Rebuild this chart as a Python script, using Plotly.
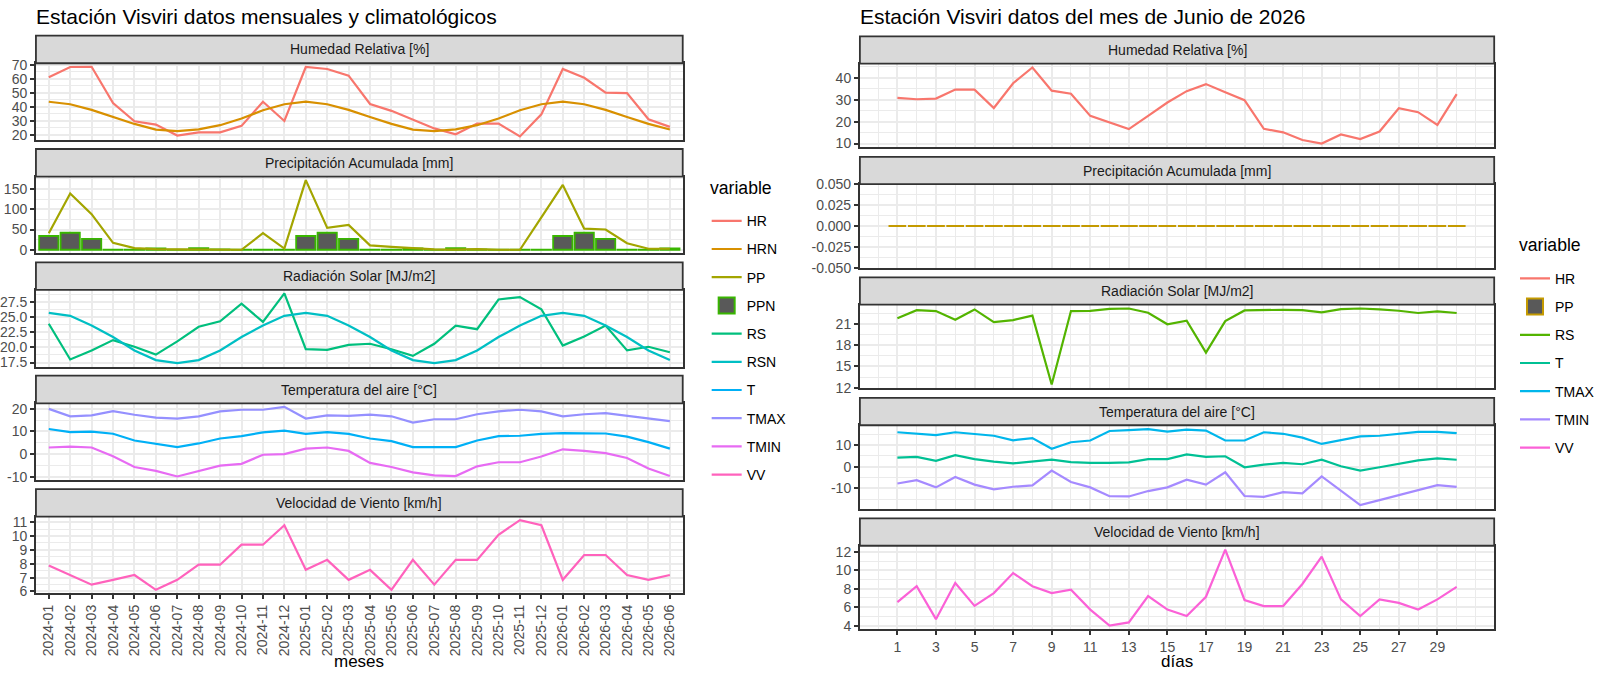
import plotly.graph_objects as go

# ---------------- datos mensuales y climatológicos ----------------
meses = ["2024-01", "2024-02", "2024-03", "2024-04", "2024-05", "2024-06",
         "2024-07", "2024-08", "2024-09", "2024-10", "2024-11", "2024-12",
         "2025-01", "2025-02", "2025-03", "2025-04", "2025-05", "2025-06",
         "2025-07", "2025-08", "2025-09", "2025-10", "2025-11", "2025-12",
         "2026-01", "2026-02", "2026-03", "2026-04", "2026-05", "2026-06"]

hr = [61.2, 68.4, 68.6, 42.8, 29.8, 27.4, 19.6, 21.9, 21.9, 26.5, 43.7, 30.0,
      68.4, 67.0, 62.3, 42.1, 37.2, 30.9, 24.7, 20.5, 28.1, 28.1, 19.0, 34.7,
      67.0, 60.7, 50.2, 49.8, 31.2, 25.8]
hrn = [43.7, 41.9, 37.9, 32.8, 27.9, 23.9, 22.8, 24.0, 27.0, 31.7, 37.6, 41.9,
       43.7, 41.9, 37.9, 32.8, 27.9, 23.9, 22.8, 24.0, 27.0, 31.7, 37.6, 41.9,
       43.7, 41.9, 37.9, 32.8, 27.9, 23.9]
pp = [41, 139, 88, 17, 4, 1.5, 1, 1, 0.5, 0, 41, 3,
      172, 54, 61.5, 11, 7, 4, 1, 0.5, 1.5, 0, 0, 80,
      160, 52, 50, 16, 2.5, 2.5]
ppn = [34, 42, 27, 0.6, 0.6, 3.5, 0.5, 4, 1, 0.5, 0.5, 0.6,
       34, 42, 27, 0.6, 0.6, 3.5, 0.5, 4, 1, 0.5, 0.5, 0.6,
       34, 42, 27, 0.6, 0.6, 3.5]
rs = [23.9, 18.0, 19.5, 21.2, 20.1, 18.8, 21.0, 23.4, 24.3, 27.2, 24.2, 28.9,
      19.7, 19.6, 20.4, 20.6, 19.7, 18.6, 20.6, 23.6, 23.0, 27.9, 28.3, 26.3,
      20.3, 21.8, 23.6, 19.5, 20.1, 19.2]
rsn = [25.7, 25.2, 23.6, 21.7, 19.5, 17.9, 17.4, 17.9, 19.5, 21.7, 23.6, 25.2,
       25.7, 25.2, 23.6, 21.7, 19.5, 17.9, 17.4, 17.9, 19.5, 21.7, 23.6, 25.2,
       25.7, 25.2, 23.6, 21.7, 19.5, 17.9]
t = [11.1, 9.7, 9.9, 9.0, 6.0, 4.6, 3.1, 4.7, 6.9, 7.9, 9.6, 10.4,
     8.9, 9.7, 8.9, 6.9, 5.7, 3.1, 3.1, 3.1, 6.0, 7.9, 8.1, 8.9,
     9.3, 9.3, 9.1, 7.7, 5.3, 2.4]
tmax = [20.0, 16.7, 17.1, 19.0, 17.4, 16.1, 15.7, 16.7, 18.9, 19.6, 19.6, 20.9,
        15.7, 17.1, 16.9, 17.4, 16.7, 13.9, 15.4, 15.4, 17.6, 18.9, 19.6, 18.9,
        16.7, 17.6, 18.1, 16.9, 16.0, 14.6]
tmin = [2.9, 3.3, 2.9, -1.0, -5.7, -7.4, -9.9, -7.6, -5.1, -4.3, -0.3, 0.0,
        2.4, 2.9, 1.4, -3.9, -5.7, -8.1, -9.4, -9.7, -5.4, -3.6, -3.6, -1.1,
        2.1, 1.4, 0.4, -1.7, -6.4, -9.7]
vv = [7.88, 7.19, 6.49, 6.84, 7.19, 6.12, 6.84, 7.93, 7.93, 9.37, 9.37, 10.77,
      7.56, 8.28, 6.84, 7.56, 6.12, 8.28, 6.49, 8.28, 8.28, 10.09, 11.14, 10.77,
      6.84, 8.63, 8.63, 7.19, 6.84, 7.19]

# ---------------- datos diarios junio 2026 ----------------
dias = [1, 2, 3, 4, 5, 6, 7, 8, 9, 10, 11, 12, 13, 14, 15,
        16, 17, 18, 19, 20, 21, 22, 23, 24, 25, 26, 27, 28, 29, 30]
hr_d = [30.8, 30.2, 30.5, 34.6, 34.6, 26.2, 37.5, 44.7, 34.1, 32.7, 22.6, 19.6,
        16.6, 22.6, 28.7, 33.9, 37.1, 33.4, 29.8, 16.7, 15.1, 11.6, 10.0, 14.1,
        12.0, 15.5, 26.1, 24.3, 18.5, 32.5]
pp_d = [0.0, 0.0, 0.0, 0.0, 0.0, 0.0, 0.0, 0.0, 0.0, 0.0, 0.0, 0.0, 0.0, 0.0, 0.0,
        0.0, 0.0, 0.0, 0.0, 0.0, 0.0, 0.0, 0.0, 0.0, 0.0, 0.0, 0.0, 0.0, 0.0, 0.0]
rs_d = [21.82, 22.95, 22.82, 21.59, 23.05, 21.27, 21.55, 22.18, 12.45, 22.82,
        22.86, 23.14, 23.18, 22.59, 20.95, 21.45, 16.95, 21.41, 22.91, 23.0,
        23.0, 22.95, 22.64, 23.09, 23.18, 23.05, 22.86, 22.55, 22.77, 22.55]
t_d = [4.2, 4.5, 2.7, 5.3, 3.5, 2.3, 1.5, 2.3, 3.2, 2.1, 1.7, 1.7, 2.0, 3.5, 3.5,
       5.7, 4.5, 4.8, -0.3, 0.9, 1.7, 1.1, 3.2, 0.2, -1.8, -0.3, 1.2, 2.9, 3.8, 3.2]
tmax_d = [15.9, 15.4, 14.6, 15.9, 15.0, 14.3, 12.2, 13.2, 8.3, 11.3, 12.1, 16.5,
          16.9, 17.4, 16.2, 17.1, 16.7, 12.1, 12.1, 15.9, 15.2, 13.4, 10.5, 12.2,
          14.0, 14.3, 15.2, 16.1, 16.1, 15.5]
tmin_d = [-7.8, -6.3, -9.6, -4.8, -8.3, -10.5, -9.3, -8.7, -1.8, -7.1, -9.6, -13.7,
          -13.8, -11.3, -9.6, -6.0, -8.3, -2.6, -13.6, -14.0, -11.8, -12.4, -4.5, -11.0,
          -17.8, -15.5, -13.3, -10.8, -8.6, -9.4]
vv_d = [6.54, 8.28, 4.70, 8.63, 6.14, 7.53, 9.70, 8.28, 7.53, 7.90, 5.74, 4.00,
        4.35, 7.20, 5.74, 5.04, 7.13, 12.25, 6.78, 6.12, 6.12, 8.52, 11.48, 6.85,
        5.04, 6.85, 6.47, 5.74, 6.85, 8.20]

# ticks del eje y de cada faceta
yt_izq = [[20, 30, 40, 50, 60, 70], [0, 50, 100, 150], [17.5, 20, 22.5, 25, 27.5],
          [-10, 0, 10, 20], [6, 7, 8, 9, 10, 11]]
yt_der = [[10, 20, 30, 40], [-0.05, -0.025, 0, 0.025, 0.05], [12, 15, 18, 21],
          [-10, 0, 10], [4, 6, 8, 10, 12]]
dec_izq = [0, 0, 1, 0, 0]
dec_der = [0, 3, 0, 0, 0]

titulos = ["Humedad Relativa [%]", "Precipitación Acumulada [mm]",
           "Radiación Solar [MJ/m2]", "Temperatura del aire [°C]",
           "Velocidad de Viento [km/h]"]

W, H = 1600, 676
FONT = "Liberation Sans, Arial, sans-serif"
GRID = "#EBEBEB"
DARK = "#333333"
LW = 2.2


def px(v):
    return v / W


def py(v):
    return 1 - v / H


def rango(*series):
    vals = [v for s in series for v in s]
    lo, hi = min(vals), max(vals)
    pad = (hi - lo) * 0.05
    return [lo - pad, hi + pad]


def menores(major, r):
    step = major[1] - major[0]
    ext = [major[0] - step] + list(major) + [major[-1] + step]
    mids = [(a + b) / 2 for a, b in zip(ext[:-1], ext[1:])]
    return [m for m in mids if r[0] <= m <= r[1]]


fig = go.Figure()
layout = {}
annotations = []
shapes = []


def nombre(n):
    return "" if n == 1 else str(n)


def linea(n, x, y, name, color, legend, rank):
    fig.add_trace(go.Scatter(
        x=x, y=y, name=name, mode="lines",
        line=dict(color=color, width=LW),
        xaxis="x" + nombre(n), yaxis="y" + nombre(n),
        legend=legend, legendgroup=legend + name, legendrank=rank))


def barra(n, x, y, name, edge, legend, rank):
    fig.add_trace(go.Bar(
        x=x, y=y, name=name, width=0.9, showlegend=False,
        marker=dict(color="#595959", line=dict(color=edge, width=1.8)),
        xaxis="x" + nombre(n), yaxis="y" + nombre(n),
        legend=legend, legendgroup=legend + name))
    # entrada de leyenda con un cuadro más grande
    fig.add_trace(go.Scatter(
        x=[None], y=[None], name=name, mode="markers",
        marker=dict(symbol="square", size=16, color="#595959",
                    line=dict(color=edge, width=2)),
        xaxis="x" + nombre(n), yaxis="y" + nombre(n),
        legend=legend, legendgroup=legend + name, legendrank=rank))


def panel(n, x0, x1, strip_top, strip_h, panel_h, title, yr, ymaj, dec, xcfg, bottom):
    top = strip_top + strip_h
    bot = top + panel_h
    k = nombre(n)
    xa = dict(domain=[px(x0), px(x1)], anchor="y" + k, showline=True, mirror=True,
              linecolor=DARK, linewidth=1.8, showgrid=True, gridcolor=GRID,
              gridwidth=LW, zeroline=False, showticklabels=bottom,
              ticks="outside" if bottom else "", ticklen=4, tickwidth=1.5,
              tickcolor=DARK, tickfont=dict(size=14, color="#4D4D4D", family=FONT))
    xa.update(xcfg)
    layout["xaxis" + k] = xa
    layout["yaxis" + k] = dict(
        domain=[py(bot), py(top)], anchor="x" + k, range=yr,
        tickmode="array", tickvals=ymaj, ticktext=[f"{v:.{dec}f}" for v in ymaj],
        minor=dict(tickmode="array", tickvals=menores(ymaj, yr), showgrid=True,
                   gridcolor=GRID, gridwidth=1.1),
        showline=True, mirror=True, linecolor=DARK, linewidth=1.8,
        showgrid=True, gridcolor=GRID, gridwidth=LW, zeroline=False,
        ticks="outside", ticklen=4, tickwidth=1.5, tickcolor=DARK,
        tickfont=dict(size=14, color="#4D4D4D", family=FONT))
    shapes.append(dict(type="rect", xref="paper", yref="paper",
                       x0=px(x0), x1=px(x1), y0=py(top), y1=py(strip_top),
                       fillcolor="#D9D9D9", line=dict(color=DARK, width=1.8)))
    annotations.append(dict(text=title, xref="paper", yref="paper",
                            x=px((x0 + x1) / 2), y=py(strip_top + strip_h / 2),
                            showarrow=False, xanchor="center", yanchor="middle",
                            font=dict(size=14, color="#1A1A1A", family=FONT)))


# ---------------- panel izquierdo ----------------
LX0, LX1 = 36, 684
x_izq = dict(type="category", categoryorder="array", categoryarray=meses,
             range=[-0.6, 29.6], tickmode="linear", tick0=0, dtick=1, tickangle=-90)
rangos_izq = [rango(hr, hrn), rango(pp, ppn, [0]), rango(rs, rsn),
              rango(t, tmax, tmin), rango(vv)]
for i in range(5):
    panel(i + 1, LX0, LX1, 28.3 + 116.1 * i, 28.3, 78.5, titulos[i],
          rangos_izq[i], yt_izq[i], dec_izq[i], x_izq, i == 4)

linea(1, meses, hr, "HR", "#F8766D", "legend", 1)
linea(1, meses, hrn, "HRN", "#D89000", "legend", 2)
barra(2, meses, ppn, "PPN", "#39B600", "legend", 4)
linea(2, meses, pp, "PP", "#A3A500", "legend", 3)
linea(3, meses, rs, "RS", "#00BF7D", "legend", 5)
linea(3, meses, rsn, "RSN", "#00BFC4", "legend", 6)
linea(4, meses, t, "T", "#00B0F6", "legend", 7)
linea(4, meses, tmax, "TMAX", "#9590FF", "legend", 8)
linea(4, meses, tmin, "TMIN", "#E76BF3", "legend", 9)
linea(5, meses, vv, "VV", "#FF62BC", "legend", 10)

# ---------------- panel derecho ----------------
RX0, RX1 = 861.5, 1497
x_der = dict(type="linear", range=[0.55 - 0.05 * 29.9, 30.45 + 0.05 * 29.9],
             tickmode="array", tickvals=dias[::2],
             minor=dict(tickmode="array", tickvals=[0] + dias[1::2] + [31],
                        showgrid=True, gridcolor=GRID, gridwidth=1.1))
rangos_der = [rango(hr_d), [-0.05, 0.05], rango(rs_d),
              rango(t_d, tmax_d, tmin_d), rango(vv_d)]
for i in range(5):
    panel(i + 6, RX0, RX1, 29 + 123.45 * i, 28, 85.7, titulos[i],
          rangos_der[i], yt_der[i], dec_der[i], x_der, i == 4)

linea(6, dias, hr_d, "HR", "#F8766D", "legend2", 1)
barra(7, dias, pp_d, "PP", "#C49A00", "legend2", 2)
# contorno de las barras de altura cero
seg_x, seg_y = [], []
for d, v in zip(dias, pp_d):
    if v == 0:
        seg_x += [d - 0.45, d + 0.45, None]
        seg_y += [v, v, None]
fig.add_trace(go.Scatter(x=seg_x, y=seg_y, mode="lines", showlegend=False,
                         line=dict(color="#C49A00", width=1.8),
                         xaxis="x7", yaxis="y7", hoverinfo="skip"))
linea(8, dias, rs_d, "RS", "#53B400", "legend2", 3)
linea(9, dias, t_d, "T", "#00C094", "legend2", 4)
linea(9, dias, tmax_d, "TMAX", "#00B6EB", "legend2", 5)
linea(9, dias, tmin_d, "TMIN", "#A58AFF", "legend2", 6)
linea(10, dias, vv_d, "VV", "#FB61D7", "legend2", 7)


def texto(s, x, y, size, anchor="left"):
    return dict(text=s, xref="paper", yref="paper", x=px(x), y=py(y),
                xanchor=anchor, yanchor="middle", showarrow=False, borderpad=0,
                font=dict(size=size, color="black", family=FONT))


annotations += [
    texto("Estación Visviri datos mensuales y climatológicos", LX0 - 1, 9, 21),
    texto("Estación Visviri datos del mes de Junio de 2026", RX0 - 1, 9, 21),
    texto("meses", (LX0 + LX1) / 2, 669.5, 17, "center"),
    texto("días", (RX0 + RX1) / 2, 669.5, 17, "center"),
    texto("variable", 710, 184, 17.6),
    texto("variable", 1521, 243, 17.6),
]

leg = dict(xanchor="left", yanchor="top", bgcolor="rgba(0,0,0,0)",
           font=dict(size=14, color="black", family=FONT), tracegroupgap=7)

fig.update_layout(
    width=W, height=H, margin=dict(l=0, r=0, t=0, b=0),
    paper_bgcolor="white", plot_bgcolor="white",
    font=dict(family=FONT), barmode="overlay",
    legend=dict(leg, x=px(708), y=py(202)),
    legend2=dict(leg, x=px(1518), y=py(261)),
    annotations=annotations, shapes=shapes, **layout)

fig.write_html("out.html", config={"displayModeBar": False},
               post_script="document.body.style.margin='0px';")
